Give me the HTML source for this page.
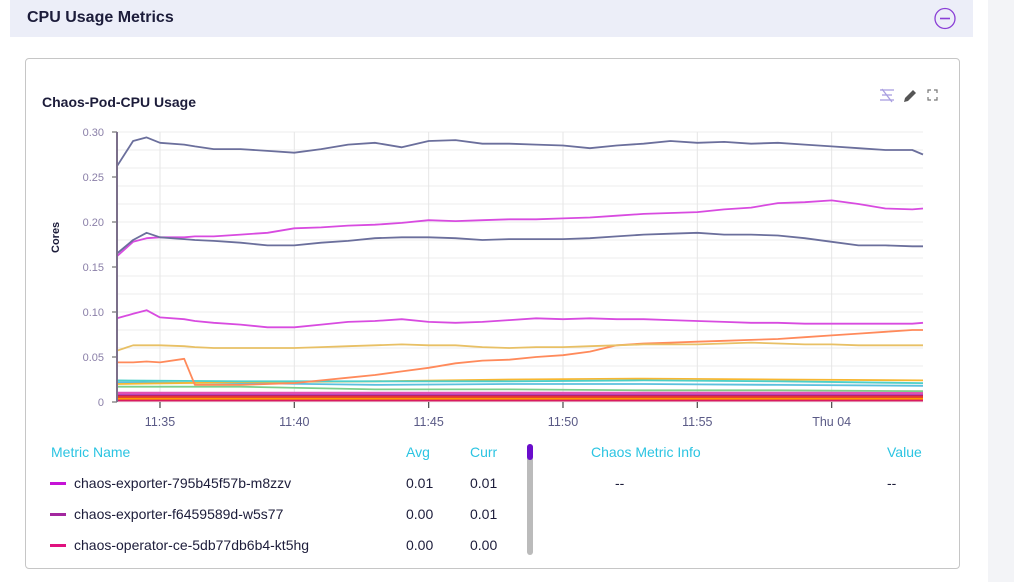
<!DOCTYPE html>
<html><head><meta charset="utf-8"><style>
body{margin:0;width:1014px;height:582px;background:#fff;font-family:"Liberation Sans",sans-serif;position:relative;overflow:hidden}
.abs{position:absolute}
.hdr{left:10px;top:0;width:963px;height:37px;background:#eceef8}
.strip{left:988px;top:0;width:26px;height:582px;background:#f3f4f7}
.card{left:25px;top:58px;width:933px;height:509px;border:1px solid #c6c6c6;border-radius:4px;background:#fff}
.th{color:#2bc4e2;font-size:14px}
.td{color:#1c1c3a;font-size:14px}
</style></head><body>
<div class="abs strip"></div>
<div class="abs hdr"></div>
<div class="abs" style="left:27px;top:9px;font-size:16px;font-weight:bold;color:#1c1c3a">CPU Usage Metrics</div>
<svg class="abs" style="left:933px;top:7px" width="24" height="24"><circle cx="12" cy="11.5" r="10" fill="none" stroke="#8a3fd6" stroke-width="1.3"/><line x1="7" y1="11.5" x2="17" y2="11.5" stroke="#8a3fd6" stroke-width="1.6"/></svg>
<div class="abs card"></div>
<div class="abs" style="left:42px;top:94px;font-size:14px;font-weight:bold;color:#1c1c3a">Chaos-Pod-CPU Usage</div>
<svg class="abs" style="left:878px;top:86px" width="62" height="20">
<g stroke="#a99fe0" stroke-width="1.3"><line x1="2" y1="4" x2="16" y2="4"/><line x1="4" y1="9" x2="14" y2="9"/><line x1="2" y1="14" x2="16" y2="14"/><line x1="4" y1="3" x2="14" y2="16"/></g>
<g><path d="M26 16 L27 12 L35 4 L38 7 L30 15 Z" fill="#555"/></g>
<g stroke="#777" stroke-width="1.2" fill="none"><path d="M50 7V4H53M56 4H59V7M59 11V14H56M53 14H50V11"/></g>
</svg>
<svg id="chart" class="abs" style="left:0;top:0" width="1014" height="440"></svg>
<div class="abs" style="left:50px;top:253px;transform:rotate(-90deg);transform-origin:0 0;font-size:11px;font-weight:bold;color:#1c1c3a">Cores</div>

<div class="abs th" style="left:51px;top:444px">Metric Name</div>
<div class="abs th" style="left:406px;top:444px">Avg</div>
<div class="abs th" style="left:470px;top:444px">Curr</div>
<div class="abs th" style="left:591px;top:444px">Chaos Metric Info</div>
<div class="abs th" style="left:887px;top:444px">Value</div>
<div class="abs" style="left:527px;top:444px;width:6px;height:111px;background:#bbb;border-radius:3px"><div style="width:6px;height:16px;background:#6a0dcc;border-radius:3px"></div></div>
<div class="abs" style="left:50px;top:475px;width:460px;height:20px">
<div class="abs" style="left:0;top:7px;width:16px;height:3px;background:#c513d6"></div><div class="abs td" style="left:24px;top:0">chaos-exporter-795b45f57b-m8zzv</div><div class="abs td" style="left:356px;top:0">0.01</div><div class="abs td" style="left:420px;top:0">0.01</div></div>
<div class="abs" style="left:50px;top:506px;width:460px;height:20px">
<div class="abs" style="left:0;top:7px;width:16px;height:3px;background:#a3279f"></div><div class="abs td" style="left:24px;top:0">chaos-exporter-f6459589d-w5s77</div><div class="abs td" style="left:356px;top:0">0.00</div><div class="abs td" style="left:420px;top:0">0.01</div></div>
<div class="abs" style="left:50px;top:537px;width:460px;height:20px">
<div class="abs" style="left:0;top:7px;width:16px;height:3px;background:#e0117f"></div><div class="abs td" style="left:24px;top:0">chaos-operator-ce-5db77db6b4-kt5hg</div><div class="abs td" style="left:356px;top:0">0.00</div><div class="abs td" style="left:420px;top:0">0.00</div></div>
<div class="abs td" style="left:615px;top:475px">--</div>
<div class="abs td" style="left:887px;top:475px">--</div>

<script>
const times=[3.4,4,4.5,5,5.9,6.3,7,8,9,10,11,12,13,14,15,16,17,18,19,20,21,22,23,24,25,26,27,28,29,30,31,32,33,33.4];
const s1=[0.262,0.29,0.294,0.288,0.286,0.284,0.281,0.281,0.279,0.277,0.281,0.286,0.288,0.283,0.290,0.291,0.287,0.287,0.286,0.285,0.282,0.285,0.287,0.290,0.288,0.289,0.287,0.288,0.286,0.284,0.282,0.280,0.280,0.275];
const s2=[0.165,0.180,0.188,0.183,0.181,0.180,0.179,0.177,0.174,0.174,0.177,0.179,0.182,0.183,0.183,0.182,0.180,0.181,0.181,0.181,0.182,0.184,0.186,0.187,0.188,0.186,0.186,0.185,0.182,0.178,0.174,0.174,0.173,0.173];
const s3=[0.162,0.178,0.182,0.183,0.183,0.184,0.184,0.186,0.188,0.193,0.194,0.196,0.197,0.199,0.202,0.201,0.202,0.203,0.203,0.204,0.205,0.207,0.209,0.210,0.211,0.214,0.216,0.221,0.222,0.224,0.220,0.215,0.214,0.215];
const s4=[0.093,0.098,0.102,0.094,0.092,0.090,0.088,0.086,0.083,0.083,0.086,0.089,0.090,0.092,0.089,0.088,0.089,0.091,0.093,0.092,0.093,0.092,0.092,0.091,0.090,0.089,0.088,0.088,0.087,0.087,0.087,0.087,0.087,0.088];
const s5=[0.057,0.063,0.063,0.063,0.062,0.061,0.060,0.060,0.060,0.060,0.061,0.062,0.063,0.064,0.063,0.063,0.061,0.060,0.061,0.061,0.062,0.063,0.064,0.064,0.064,0.065,0.066,0.065,0.064,0.064,0.063,0.063,0.063,0.063];
const s6=[0.044,0.044,0.045,0.044,0.048,0.019,0.019,0.019,0.020,0.021,0.024,0.027,0.030,0.034,0.038,0.043,0.046,0.047,0.050,0.052,0.056,0.063,0.065,0.066,0.067,0.068,0.069,0.070,0.072,0.074,0.076,0.078,0.080,0.080];
const lowTimes=[3.4,8,13,18,23,28,33.4];
const low1=[0.024,0.023,0.023,0.023,0.024,0.023,0.021];
const low2=[0.020,0.022,0.023,0.025,0.026,0.025,0.024];
const low3=[0.022,0.021,0.019,0.020,0.020,0.019,0.018];
const low4=[0.017,0.017,0.014,0.014,0.013,0.013,0.012];
const low5=[0.010,0.010,0.010,0.010,0.010,0.010,0.010];
const low6=[0.009,0.009,0.009,0.009,0.009,0.009,0.009];
const low7=[0.008,0.008,0.008,0.008,0.008,0.008,0.008];
const low8=[0.006,0.006,0.006,0.006,0.006,0.006,0.006];
const low9=[0.004,0.004,0.004,0.004,0.004,0.004,0.004];
const low10=[0.002,0.002,0.002,0.002,0.002,0.002,0.002];
const yTicks=[0,0.05,0.10,0.15,0.20,0.25,0.30];
const yTickLabels=["0","0.05","0.10","0.15","0.20","0.25","0.30"];
const xTicks=[5,10,15,20,25,30];
const xTickLabels=["11:35","11:40","11:45","11:50","11:55","Thu 04"];

const X0=117,X1=923,Y0=402,Y1=132,TMIN=3.4,TMAX=33.4,VMAX=0.30;
const xs=t=>X0+(t-TMIN)/(TMAX-TMIN)*(X1-X0);
const ys=v=>Y0-v/VMAX*(Y0-Y1);
const svg=document.getElementById('chart');
const NS='http://www.w3.org/2000/svg';
function mk(tag,attrs,parent){const e=document.createElementNS(NS,tag);for(const k in attrs)e.setAttribute(k,attrs[k]);(parent||svg).appendChild(e);return e;}
for(let v=0;v<=0.3001;v+=0.02){const g=mk('line',{x1:X0,x2:X1,y1:ys(v),y2:ys(v),stroke:'#ececec','stroke-width':1});

}
xTicks.forEach((t,i)=>{const g=mk('line',{x1:xs(t),x2:xs(t),y1:Y1,y2:Y0,stroke:'#e6e6e6'});


const tk=mk('line',{x1:xs(t),x2:xs(t),y1:Y0,y2:Y0+6,stroke:'#555','stroke-width':1.3});


const tx=mk('text',{x:xs(t),y:Y0+24,'text-anchor':'middle','font-size':12.5,fill:'#5a5a86','font-family':'Liberation Sans, sans-serif'});tx.textContent=xTickLabels[i];

});
yTicks.forEach((v,i)=>{const tk=mk('line',{x1:X0-5,x2:X0,y1:ys(v),y2:ys(v),stroke:'#555'});


const tx=mk('text',{x:X0-13,y:ys(v)+4,'text-anchor':'end','font-size':11,fill:'#8a7fa8','font-family':'Liberation Sans, sans-serif'});tx.textContent=yTickLabels[i];

});
function line(tArr,vArr,color,w,name){const d=vArr.map((v,i)=>(i?'L':'M')+xs(tArr[i]).toFixed(1)+' '+ys(v).toFixed(1)).join(' ');
const p=mk('path',{d:d,fill:'none',stroke:color,'stroke-width':w,'stroke-linejoin':'round'});

}
line(lowTimes,low10,'#d81b60',2.5,'series-low-10');
line(lowTimes,low9,'#ff9800',2.5,'series-low-9');
line(lowTimes,low8,'#e53935',2.5,'series-low-8');
line(lowTimes,low7,'#c2185b',2.5,'series-low-7');
line(lowTimes,low6,'#ab47bc',2.5,'series-low-6');
line(lowTimes,low5,'#e04fb3',2.5,'series-low-5');
line(lowTimes,low4,'#7ccf8a',1.8,'series-low-4');
line(lowTimes,low3,'#5bc0de',1.8,'series-low-3');
line(lowTimes,low2,'#f7b731',1.8,'series-low-2');
line(lowTimes,low1,'#4dd0c8',1.8,'series-low-1');
line(times,s6,'#ff8a5b',1.8,'series-orange');
line(times,s5,'#e8c065',1.8,'series-yellow');
line(times,s4,'#d84be0',1.8,'series-magenta-low');
line(times,s3,'#d84be0',1.8,'series-magenta-high');
line(times,s2,'#6b6f9c',1.8,'series-slate-mid');
line(times,s1,'#6b6f9c',1.8,'series-slate-top');
const ax=mk('line',{x1:X0,x2:X0,y1:Y1,y2:Y0,stroke:'#7b6f8a','stroke-width':2});


</script>
</body></html>
